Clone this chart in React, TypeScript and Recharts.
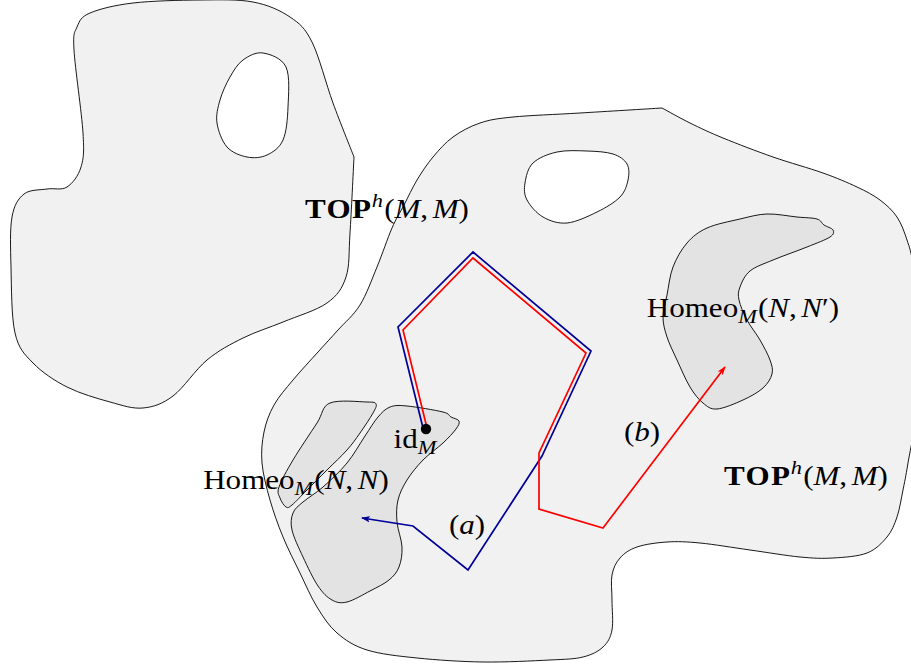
import React from "react";
import { ScatterChart, Scatter, XAxis, YAxis } from "recharts";

type Pt = [number, number];

// outlines (page pixels, y downwards)
const leftRegion: Pt[] = [
  [90, 13], [133, 3], [200, 0], [253, 2], [290, 17], [312, 42], [333, 103], [354, 157], [354, 157],
  [350, 233], [346, 277], [327, 303], [283, 322], [243, 338], [207, 360], [173, 396], [143, 408],
  [110, 402], [67, 387], [33, 363], [15, 333], [11, 267], [12, 217], [24, 194], [47, 189], [67, 187],
  [81, 167], [83, 133], [74, 50], [77, 27],
];
const leftHole: Pt[] = [
  [263, 53], [286, 67], [288, 107], [283, 140], [267, 155], [247, 157], [227, 147], [217, 123],
  [220, 100], [230, 77], [243, 60],
];
const mainRegion: Pt[] = [
  [662, 108], [662, 108], [690, 123], [723, 138], [773, 157], [823, 173], [857, 187], [880, 200],
  [897, 217], [907, 240], [913, 265], [918, 320], [918, 400], [908, 463], [903, 490], [897, 517],
  [887, 537], [867, 553], [833, 558], [800, 557], [750, 550], [700, 543], [667, 542], [637, 547],
  [620, 558], [612, 575], [612, 600], [612, 630], [603, 647], [583, 657], [550, 660], [483, 662],
  [417, 658], [367, 650], [337, 633], [317, 607], [300, 573], [283, 537], [270, 500], [262, 463],
  [264, 432], [274, 405], [293, 380], [318, 352], [338, 330], [360, 305], [377, 267], [392, 228],
  [404, 205], [417, 180], [433, 157], [453, 137], [480, 123], [513, 117], [580, 113],
];
const mainHole: Pt[] = [
  [557, 152], [587, 151], [613, 154], [627, 164], [628, 180], [620, 197], [597, 212], [567, 223],
  [543, 217], [527, 200], [525, 183], [533, 163],
];
const homeoNN1: Pt[] = [
  [330, 403], [367, 402], [376, 404], [373, 413], [360, 433], [347, 450], [327, 470], [307, 490],
  [292, 505], [286, 507], [280, 498], [279, 487], [293, 460], [317, 423],
];
const homeoNN2: Pt[] = [
  [390, 407], [407, 406], [443, 412], [451, 417], [459, 421], [456, 429], [443, 443], [423, 460],
  [407, 480], [398, 500], [397, 522], [402, 547], [399, 567], [389, 580], [370, 591], [347, 602],
  [332, 600], [318, 586], [303, 557], [292, 530], [293, 513], [303, 502], [323, 487], [347, 463],
  [365, 436], [378, 417],
];
const homeoNN3: Pt[] = [
  [707, 228], [740, 219], [767, 214], [797, 217], [817, 219], [824, 225], [833, 230], [830, 237],
  [807, 247], [773, 260], [750, 271], [740, 287], [739, 300], [747, 320], [760, 340], [770, 360],
  [772, 374], [763, 388], [743, 400], [717, 409], [703, 403], [690, 387], [677, 360], [667, 337],
  [663, 317], [667, 295], [673, 267], [687, 243],
];

// paths
const bluePath: Pt[] = [
  [423, 428], [398, 327], [473, 252], [591, 351], [542, 456], [468, 570], [413, 526], [362, 518],
];
const redPath: Pt[] = [
  [427, 428], [403, 330], [473, 258], [586, 353], [539, 453], [539, 509], [603, 528], [725, 367],
];
const idPoint: Pt[] = [[426, 429]];

// labels
const labelTex = [
  "\\mathbf{TOP}^h(M,M)",
  "\\mathbf{TOP}^h(M,M)",
  "\\mathrm{Homeo}_M(N,N')",
  "\\mathrm{Homeo}_M(N,N)",
  "\\mathrm{id}_M",
  "(a)",
  "(b)",
];
const labelAt: Pt[] = [
  [387, 218], [806, 485], [743, 317], [296, 489], [415, 448], [467, 534], [642, 441],
];

const toData = (pts: Pt[]) => pts.map(([x, y]) => ({ x, y }));

const closedPath = (pts: { x: number; y: number }[]) => {
  const n = pts.length;
  let d = `M${pts[0].x},${pts[0].y}`;
  for (let i = 0; i < n; i++) {
    const p0 = pts[(i - 1 + n) % n];
    const p1 = pts[i];
    const p2 = pts[(i + 1) % n];
    const p3 = pts[(i + 2) % n];
    if (p1.x === p2.x && p1.y === p2.y) continue;
    const c1x = p1.x + (p2.x - p0.x) / 6;
    const c1y = p1.y + (p2.y - p0.y) / 6;
    const c2x = p2.x - (p3.x - p1.x) / 6;
    const c2y = p2.y - (p3.y - p1.y) / 6;
    d += ` C${c1x},${c1y} ${c2x},${c2y} ${p2.x},${p2.y}`;
  }
  return d + "Z";
};

const blobLine = (fill: string) => (props: any) => (
  <path d={closedPath(props.points)} fill={fill} stroke="#000" strokeWidth={0.9} />
);

const arrowLine = (color: string, id: string) => (props: any) => (
  <g>
    <defs>
      <marker id={id} markerWidth={10} markerHeight={8} refX={8} refY={4} orient="auto" markerUnits="userSpaceOnUse">
        <path d="M0,0.8 L9,4 L0,7.2 L2,4 Z" fill={color} />
      </marker>
    </defs>
    <path
      d={props.points.map((p: any, i: number) => `${i ? "L" : "M"}${p.x},${p.y}`).join(" ")}
      fill="none"
      stroke={color}
      strokeWidth={1.7}
      strokeLinejoin="miter"
      markerEnd={`url(#${id})`}
    />
  </g>
);

type Run = { t: string; kind: "rm" | "it" | "bf"; pos: number };

// tiny TeX-ish parser: \mathbf{..}, \mathrm{..}, ^x, _x, single letters italic
const parseTex = (s: string): Run[] => {
  const runs: Run[] = [];
  let pos = 0;
  let i = 0;
  while (i < s.length) {
    const c = s[i];
    if (c === "\\") {
      const m = /^\\(mathbf|mathrm)\{([^}]*)\}/.exec(s.slice(i));
      if (m) {
        runs.push({ t: m[2], kind: m[1] === "mathbf" ? "bf" : "rm", pos });
        pos = 0;
        i += m[0].length;
        continue;
      }
    }
    if (c === "^" || c === "_") {
      pos = c === "^" ? -1 : 1;
      i++;
      continue;
    }
    runs.push({ t: c === "'" ? "\u2032" : c, kind: /[A-Za-z]/.test(c) ? "it" : "rm", pos });
    pos = 0;
    i++;
  }
  return runs;
};

const FS = 27;

const TexLabel = (props: any) => {
  const runs = parseTex(props.payload.tex);
  let cur = 0;
  return (
    <g transform={`translate(${props.cx},${props.cy}) scale(1.15,1)`}>
      <text x={0} y={0} textAnchor="middle" fontFamily="'Liberation Serif', serif" fontSize={FS} fill="#000">
        {runs.map((r, k) => {
          const target = r.pos === 1 ? 6 : r.pos === -1 ? -11 : 0;
          const dy = target - cur;
          cur = target;
          const prev = runs[k - 1];
          let dx = 0;
          if (prev && prev.t === ",") dx = 4;
          else if (r.pos !== 0 && prev && prev.kind === "bf") dx = -0.5;
          else if (r.pos === 0 && prev && prev.pos !== 0) dx = 1;
          return (
            <tspan
              key={k}
              dy={dy || undefined}
              dx={dx || undefined}
              fontStyle={r.kind === "it" ? "italic" : "normal"}
              fontWeight={r.kind === "bf" ? "bold" : "normal"}
              letterSpacing={r.kind === "bf" ? 1.2 : undefined}
              fontSize={r.pos ? FS * 0.72 : FS}
            >
              {r.t}
            </tspan>
          );
        })}
      </text>
    </g>
  );
};

const hidden = () => <g />;

export default function App() {
  const labels = labelTex.map((tex, i) => ({ x: labelAt[i][0], y: labelAt[i][1], tex }));
  return (
    <div style={{ position: "absolute", left: 0, top: 0, background: "#fff" }}>
      <ScatterChart width={911} height={666} margin={{ top: 0, right: 0, bottom: 0, left: 0 }}>
        <XAxis type="number" dataKey="x" domain={[0, 911]} allowDataOverflow hide />
        <YAxis type="number" dataKey="y" domain={[0, 666]} reversed allowDataOverflow hide />
        <Scatter data={toData(leftRegion)} shape={hidden} line={blobLine("#f1f1f1")} isAnimationActive={false} />
        <Scatter data={toData(leftHole)} shape={hidden} line={blobLine("#ffffff")} isAnimationActive={false} />
        <Scatter data={toData(mainRegion)} shape={hidden} line={blobLine("#f1f1f1")} isAnimationActive={false} />
        <Scatter data={toData(mainHole)} shape={hidden} line={blobLine("#ffffff")} isAnimationActive={false} />
        <Scatter data={toData(homeoNN1)} shape={hidden} line={blobLine("#e3e3e3")} isAnimationActive={false} />
        <Scatter data={toData(homeoNN2)} shape={hidden} line={blobLine("#e3e3e3")} isAnimationActive={false} />
        <Scatter data={toData(homeoNN3)} shape={hidden} line={blobLine("#e3e3e3")} isAnimationActive={false} />
        <Scatter data={toData(bluePath)} shape={hidden} line={arrowLine("#000099", "arrBlue")} isAnimationActive={false} />
        <Scatter data={toData(redPath)} shape={hidden} line={arrowLine("#ff0000", "arrRed")} isAnimationActive={false} />
        <Scatter
          data={toData(idPoint)}
          shape={(p: any) => <circle cx={p.cx} cy={p.cy} r={5.2} fill="#000" />}
          isAnimationActive={false}
        />
        <Scatter data={labels} shape={TexLabel} isAnimationActive={false} />
      </ScatterChart>
    </div>
  );
}
